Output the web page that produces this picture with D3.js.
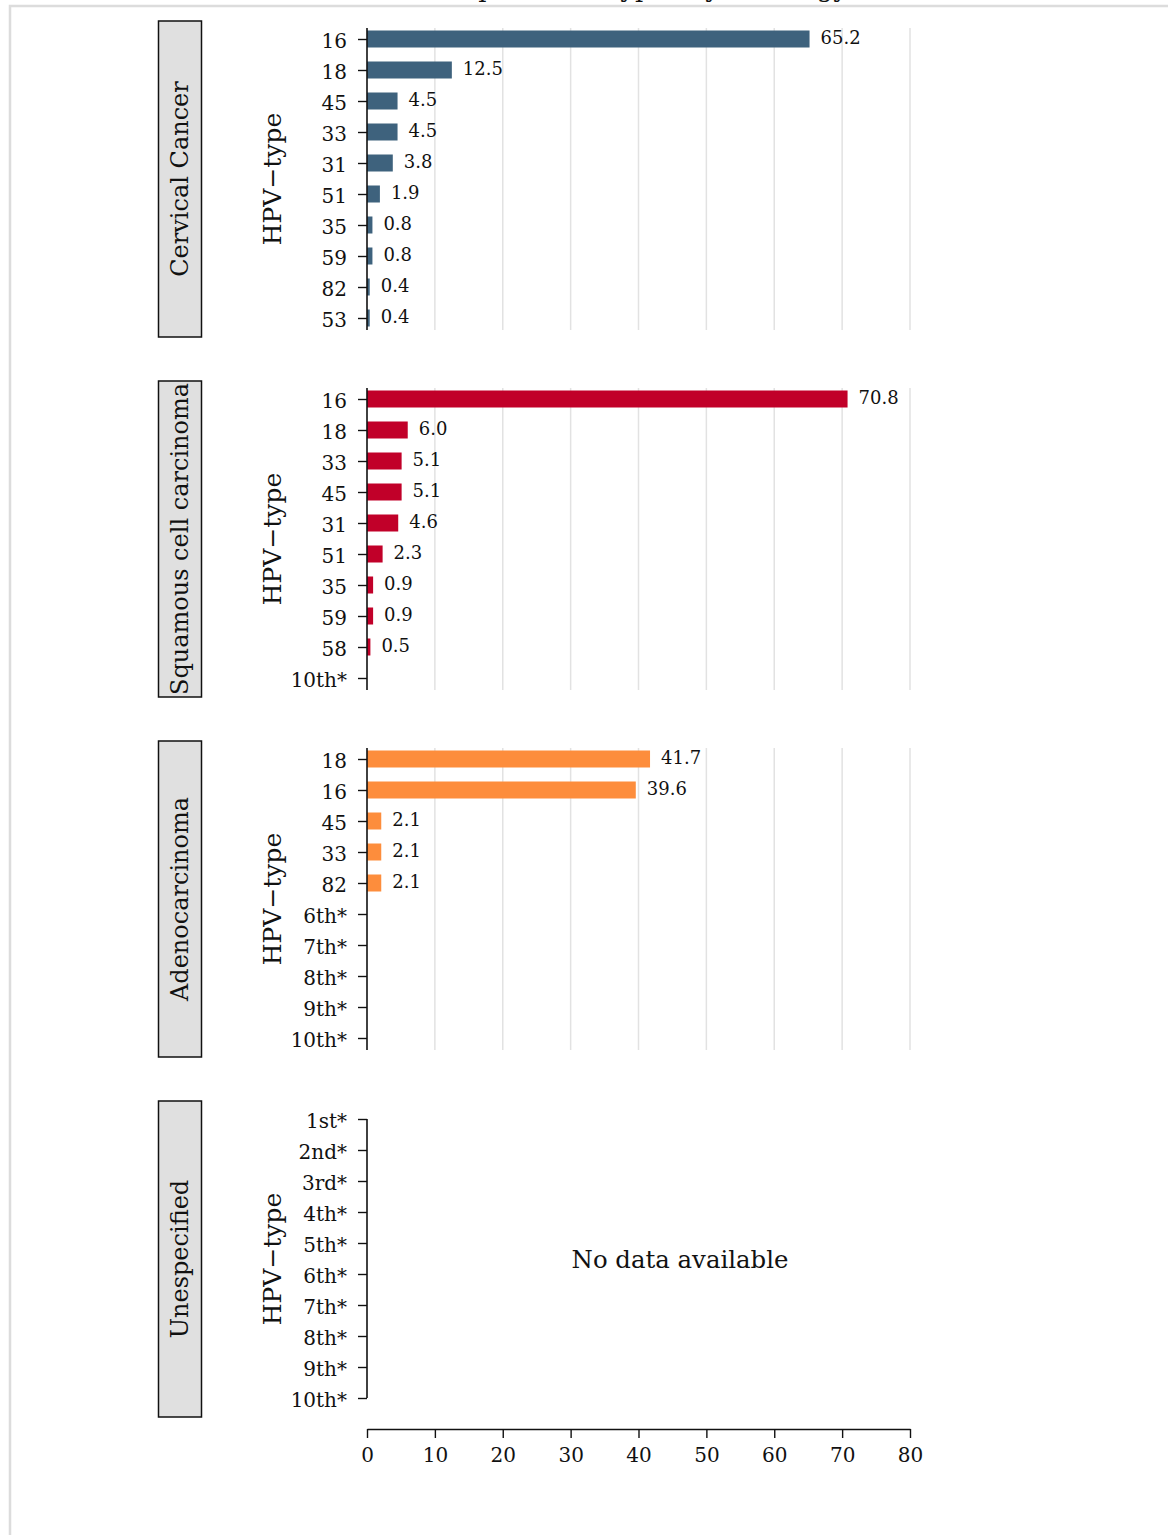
<!DOCTYPE html>
<html>
<head>
    <title>HPV-type by histology</title>
    <script src="https://d3js.org/d3.v7.min.js"></script>
    <style>
        body { margin: 0; background: #fff; }
        text { font-family: "DejaVu Serif", serif; fill: #111; }
        .tick text { font-size: 20px; }
        .value { font-size: 18px; }
        .strip-label { font-size: 24px; }
        .axis-title { font-size: 25px; }
        .grid { stroke: #e2e2e2; stroke-width: 1.5; }
    </style>
</head>
<body>
<svg width="1168" height="1535"></svg>
<script>
    // one entry per histology panel
    var panelNames = ["Cervical Cancer", "Squamous cell carcinoma", "Adenocarcinoma", "Unespecified"];
    var panelColors = ["#3e627d", "#c10029", "#fd8d3c", "#999999"];

    var cervicalTypes = ["16", "18", "45", "33", "31", "51", "35", "59", "82", "53"];
    var cervicalValues = [65.2, 12.5, 4.5, 4.5, 3.8, 1.9, 0.8, 0.8, 0.4, 0.4];

    var squamousTypes = ["16", "18", "33", "45", "31", "51", "35", "59", "58", "10th*"];
    var squamousValues = [70.8, 6.0, 5.1, 5.1, 4.6, 2.3, 0.9, 0.9, 0.5, null];

    var adenoTypes = ["18", "16", "45", "33", "82", "6th*", "7th*", "8th*", "9th*", "10th*"];
    var adenoValues = [41.7, 39.6, 2.1, 2.1, 2.1, null, null, null, null, null];

    var unspecTypes = ["1st*", "2nd*", "3rd*", "4th*", "5th*", "6th*", "7th*", "8th*", "9th*", "10th*"];
    var unspecValues = [null, null, null, null, null, null, null, null, null, null];

    var xTicks = [0, 10, 20, 30, 40, 50, 60, 70, 80];

    var panelTypes = [cervicalTypes, squamousTypes, adenoTypes, unspecTypes];
    var panelValues = [cervicalValues, squamousValues, adenoValues, unspecValues];

    var svg = d3.select("svg");

    // light frame around the figure
    svg.append("rect")
        .attr("x", 10).attr("y", 6)
        .attr("width", 1300).attr("height", 1700)
        .attr("fill", "none")
        .attr("stroke", "#dcdcdc")
        .attr("stroke-width", 2.5);

    // title sits above the frame, only its lower edge shows
    svg.append("text")
        .attr("x", 848).attr("y", -3)
        .attr("text-anchor", "end")
        .style("font-size", "26px")
        .text("Top 10 HPV-types by histology");

    var x = d3.scaleLinear().domain([0, 80]).range([367, 910]);

    var panelTop0 = 21, panelStep = 360, panelH = 316, barH = 17;

    panelNames.forEach(function(name, i) {
        var top = panelTop0 + i * panelStep;
        var types = panelTypes[i];
        var values = panelValues[i];
        var data = types.map(function(t, j) { return {type: t, value: values[j]}; });
        var hasData = values.some(function(v) { return v != null; });

        var y = d3.scalePoint().domain(types).range([top + 18, top + 297]);

        var g = svg.append("g");

        // strip
        g.append("rect")
            .attr("x", 158.5).attr("y", top)
            .attr("width", 43).attr("height", panelH)
            .attr("fill", "#e0e0e0")
            .attr("stroke", "#111")
            .attr("stroke-width", 1.5);

        g.append("text")
            .attr("class", "strip-label")
            .attr("transform", "translate(188," + (top + panelH / 2) + ") rotate(-90)")
            .attr("text-anchor", "middle")
            .text(name);

        g.append("text")
            .attr("class", "axis-title")
            .attr("transform", "translate(281," + (top + panelH / 2) + ") rotate(-90)")
            .attr("text-anchor", "middle")
            .text("HPV\u2212type");

        if (hasData) {
            g.selectAll("line.grid")
                .data(xTicks.slice(1))
                .enter().append("line")
                .attr("class", "grid")
                .attr("x1", d => x(d)).attr("x2", d => x(d))
                .attr("y1", top + 7).attr("y2", top + 309);

            var bars = data.filter(d => d.value != null);
            g.selectAll("rect.bar")
                .data(bars)
                .enter().append("rect")
                .attr("class", "bar")
                .attr("x", x(0))
                .attr("y", d => y(d.type) - barH / 2)
                .attr("width", d => x(d.value) - x(0))
                .attr("height", barH)
                .attr("fill", panelColors[i]);

            g.selectAll("text.value")
                .data(bars)
                .enter().append("text")
                .attr("class", "value")
                .attr("x", d => x(d.value) + 11)
                .attr("y", d => y(d.type))
                .attr("dy", "0.3em")
                .text(d => d.value.toFixed(1));
        } else {
            g.append("text")
                .attr("x", 680).attr("y", top + 167)
                .style("font-size", "24.4px")
                .attr("text-anchor", "middle")
                .text("No data available");
        }

        var axis = g.append("g")
            .attr("transform", "translate(" + x(0) + ",0)")
            .call(d3.axisLeft(y).tickSize(9).tickPadding(11).tickSizeOuter(0));
        axis.select(".domain").remove();
        axis.selectAll(".tick line").attr("stroke", "#111").attr("stroke-width", 1.4);
        axis.selectAll(".tick text").attr("fill", "#111").attr("dy", "0.4em");

        // vertical axis line
        g.append("line")
            .attr("x1", x(0)).attr("x2", x(0))
            .attr("y1", hasData ? top + 7 : y(types[0]))
            .attr("y2", hasData ? top + 309 : y(types[types.length - 1]))
            .attr("stroke", "#111")
            .attr("stroke-width", 1.6);
    });

    var xAxis = svg.append("g")
        .attr("transform", "translate(0,1429)")
        .call(d3.axisBottom(x).tickValues(xTicks).tickSize(9).tickSizeOuter(0).tickPadding(10));
    xAxis.select(".domain").attr("stroke", "#111").attr("stroke-width", 1.4);
    xAxis.selectAll(".tick line").attr("stroke", "#111").attr("stroke-width", 1.4);
    xAxis.selectAll(".tick text").attr("fill", "#111");
</script>
</body>
</html>
